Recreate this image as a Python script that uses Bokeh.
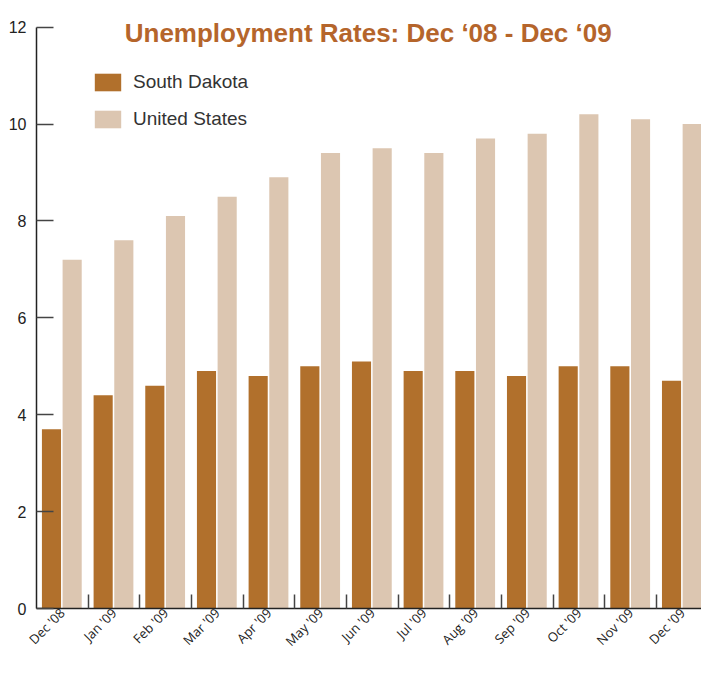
import math
from bokeh.plotting import figure
from bokeh.models import ColumnDataSource, FixedTicker, Range1d, Label
from bokeh.transform import dodge
from bokeh.embed import file_html
from bokeh.resources import INLINE

# ---- data ----
months = ["Dec '08", "Jan '09", "Feb '09", "Mar '09", "Apr '09", "May '09", "Jun '09",
          "Jul '09", "Aug '09", "Sep '09", "Oct '09", "Nov '09", "Dec '09"]
south_dakota = [3.7, 4.4, 4.6, 4.9, 4.8, 5.0, 5.1, 4.9, 4.9, 4.8, 5.0, 5.0, 4.7]
united_states = [7.2, 7.6, 8.1, 8.5, 8.9, 9.4, 9.5, 9.4, 9.7, 9.8, 10.2, 10.1, 10.0]
y_ticks = [0, 2, 4, 6, 8, 10, 12]
series_names = ["South Dakota", "United States"]
title_text = "Unemployment Rates: Dec \u201808 - Dec \u201809"

SD_COLOR = "#b1702c"
US_COLOR = "#dcc6b1"
TITLE_COLOR = "#b5652b"

n = len(months)
idx = list(range(n))
source = ColumnDataSource(dict(x=idx, month=months, sd=south_dakota, us=united_states))

p = figure(width=701, height=659,
           x_range=Range1d(-0.5, n - 0.63), y_range=Range1d(0, 12.55),
           output_backend="svg", toolbar_location=None,
           min_border_left=36, min_border_top=0, min_border_right=0, min_border_bottom=0)
p.title = None
p.outline_line_color = None
p.xgrid.visible = False
p.ygrid.visible = False
p.background_fill_color = "white"
p.border_fill_color = "white"

p.vbar(x=dodge("x", -0.21, range=p.x_range), top="sd", width=0.37, source=source,
       fill_color=SD_COLOR, line_color=None, legend_label=series_names[0])
p.vbar(x=dodge("x", 0.19, range=p.x_range), top="us", width=0.37, source=source,
       fill_color=US_COLOR, line_color=None, legend_label=series_names[1])

# ---- x axis ----
xa = p.xaxis[0]
xa.ticker = FixedTicker(ticks=idx, minor_ticks=[i + 0.5 for i in idx[:-1]])
xa.major_label_overrides = {i: m for i, m in enumerate(months)}
xa.major_label_orientation = math.pi / 4
xa.major_tick_in = 0
xa.major_tick_out = 0
xa.minor_tick_in = 14
xa.minor_tick_out = 0
xa.minor_tick_line_color = "#444444"
xa.minor_tick_line_width = 1.5
xa.axis_line_color = "#222222"
xa.axis_line_width = 1.5
xa.major_label_text_font = "Open Sans"
xa.major_label_text_font_size = "13px"
xa.major_label_text_color = "#222222"
xa.major_label_standoff = 2

# ---- y axis ----
ya = p.yaxis[0]
ya.ticker = FixedTicker(ticks=y_ticks, minor_ticks=[])
ya.bounds = (0, 12)
ya.major_tick_in = 17
ya.major_tick_out = 0
ya.minor_tick_in = 0
ya.minor_tick_out = 0
ya.major_tick_line_color = "#444444"
ya.major_tick_line_width = 1.5
ya.axis_line_color = "#222222"
ya.axis_line_width = 1.5
ya.major_label_text_font = "Liberation Sans"
ya.major_label_text_font_size = "16px"
ya.major_label_text_color = "#222222"
ya.major_label_standoff = 10

# ---- legend ----
lg = p.legend[0]
lg.location = (55, 478)
lg.margin = 0
lg.padding = 0
lg.border_line_color = None
lg.background_fill_alpha = 0
lg.glyph_width = 33
lg.glyph_height = 22
lg.label_height = 22
lg.spacing = 15
lg.label_standoff = 9
lg.label_text_font = "Liberation Sans"
lg.label_text_font_size = "19px"
lg.label_text_color = "#333333"

# ---- title ----
p.add_layout(Label(x=5.92, y=11.88, text=title_text, text_align="center",
                   text_baseline="alphabetic", text_font="Liberation Sans",
                   text_font_style="bold", text_font_size="26px",
                   text_color=TITLE_COLOR))

open("out.html", "w").write(file_html(p, INLINE))
